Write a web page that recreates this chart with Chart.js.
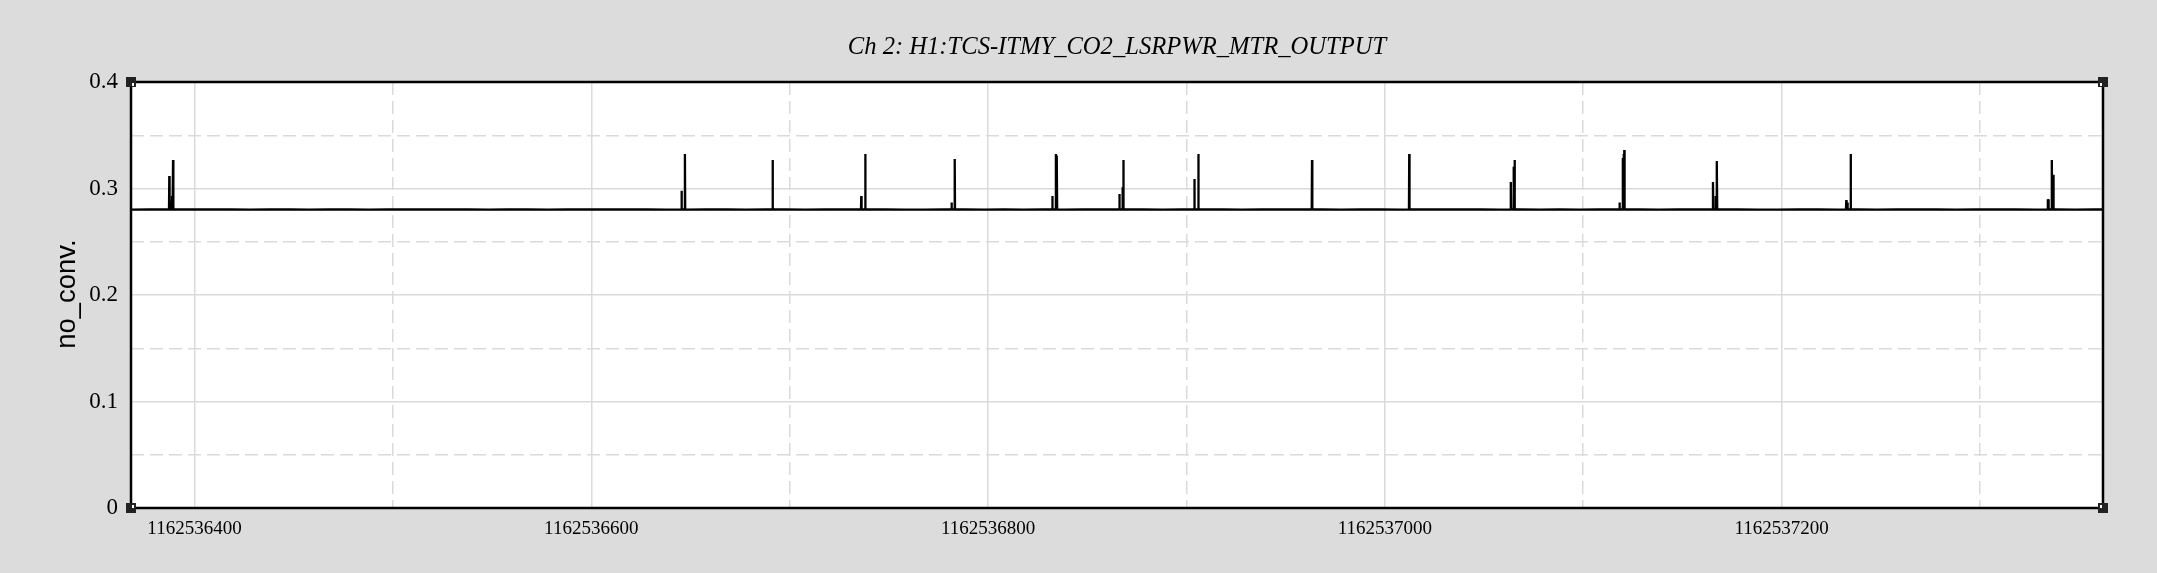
<!DOCTYPE html>
<html>
<head>
<meta charset="utf-8">
<script src="https://cdn.jsdelivr.net/npm/chart.js@4.4.1/dist/chart.umd.min.js"></script>
<style>
  html, body { margin: 0; padding: 0; background: #dcdcdc; }
</style>
</head>
<body>
<canvas id="chart" width="2157" height="573"></canvas>
<script>
// GPS time offsets (seconds after T0)
const T0 = 1162536000;
const xMin = 1162536368;
const xMax = 1162537362;

const chartTitle = 'Ch 2: H1:TCS-ITMY_CO2_LSRPWR_MTR_OUTPUT';
const yTitle = 'no_conv.';

const xMajorTicks = [1162536400, 1162536600, 1162536800, 1162537000, 1162537200];
const xMinorTicks = [1162536500, 1162536700, 1162536900, 1162537100, 1162537300];
const yMajorTicks = [0, 0.1, 0.2, 0.3, 0.4];
const yMinorTicks = [0.05, 0.15, 0.25, 0.35];

// baseline samples
const baseTimes = [
  368, 378, 388, 398, 408, 418, 428, 438, 448, 458,
  468, 478, 488, 498, 508, 518, 528, 538, 548, 558,
  568, 578, 588, 598, 608, 618, 628, 638, 648, 658,
  668, 678, 688, 698, 708, 718, 728, 738, 748, 758,
  768, 778, 788, 798, 808, 818, 828, 838, 848, 858,
  868, 878, 888, 898, 908, 918, 928, 938, 948, 958,
  968, 978, 988, 998, 1008, 1018, 1028, 1038, 1048, 1058,
  1068, 1078, 1088, 1098, 1108, 1118, 1128, 1138, 1148, 1158,
  1168, 1178, 1188, 1198, 1208, 1218, 1228, 1238, 1248, 1258,
  1268, 1278, 1288, 1298, 1308, 1318, 1328, 1338, 1348, 1358,
  1362
];
const baseVals = [
  0.2802, 0.2803, 0.2802, 0.2803, 0.2803, 0.2803, 0.2802, 0.2803, 0.2803, 0.2802,
  0.2803, 0.2803, 0.2802, 0.2803, 0.2803, 0.2803, 0.2803, 0.2803, 0.2802, 0.2803,
  0.2803, 0.2802, 0.2803, 0.2803, 0.2803, 0.2803, 0.2803, 0.2802, 0.2802, 0.2803,
  0.2803, 0.2802, 0.2803, 0.2803, 0.2802, 0.2803, 0.2803, 0.2803, 0.2803, 0.2802,
  0.2802, 0.2803, 0.2803, 0.2802, 0.2803, 0.2802, 0.2803, 0.2802, 0.2803, 0.2803,
  0.2803, 0.2803, 0.2802, 0.2803, 0.2803, 0.2803, 0.2802, 0.2803, 0.2803, 0.2803,
  0.2803, 0.2802, 0.2803, 0.2803, 0.2802, 0.2803, 0.2803, 0.2803, 0.2803, 0.2802,
  0.2803, 0.2802, 0.2803, 0.2802, 0.2803, 0.2803, 0.2803, 0.2802, 0.2803, 0.2803,
  0.2803, 0.2803, 0.2802, 0.2802, 0.2803, 0.2803, 0.2802, 0.2803, 0.2802, 0.2803,
  0.2803, 0.2803, 0.2802, 0.2803, 0.2803, 0.2803, 0.2802, 0.2803, 0.2802, 0.2803,
  0.2803
];

// spikes
const spikeTimes = [
  387.3, 388.7, 389.2, 645.5, 647.2, 691.4, 736.1, 738.1, 781.6, 783.2,
  832.4, 834.2, 834.7, 866.2, 867.7, 868.2, 904.0, 906.0, 963.3, 1012.3,
  1063.5, 1064.9, 1065.4, 1118.3, 1119.9, 1120.3, 1120.7, 1165.4, 1166.8, 1167.4,
  1232.6, 1233.2, 1234.8, 1334.2, 1334.6, 1336.2, 1337.0
];
const spikeVals = [
  0.3117, 0.2930, 0.3268, 0.2980, 0.3324, 0.3268, 0.2930, 0.3324, 0.2868, 0.3277,
  0.2930, 0.3324, 0.3310, 0.2948, 0.3011, 0.3268, 0.3089, 0.3324, 0.3268, 0.3324,
  0.3061, 0.3205, 0.3268, 0.2868, 0.3286, 0.3324, 0.3362, 0.3061, 0.2930, 0.3258,
  0.2892, 0.2868, 0.3324, 0.2900, 0.2900, 0.3268, 0.3130
];
const spikeBase = 0.2803;

const points = [];
baseTimes.forEach((t, i) => points.push({ x: T0 + t, y: baseVals[i] }));
spikeTimes.forEach((t, i) => {
  points.push({ x: T0 + t - 0.15, y: spikeBase });
  points.push({ x: T0 + t, y: spikeVals[i] });
  points.push({ x: T0 + t + 0.15, y: spikeBase });
});
points.sort((a, b) => a.x - b.x);

const serif = '"Liberation Serif", "Times New Roman", serif';
const GRID = '#dadada';

function tickList(major, minor) {
  return major.concat(minor).sort((a, b) => a - b).map(v => ({ value: v }));
}
const isMajor = (list, v) => list.some(m => Math.abs(m - v) < 1e-6);

const framePlugin = {
  id: 'frame',
  beforeDraw(chart) {
    const { ctx, chartArea: a } = chart;
    ctx.save();
    ctx.fillStyle = '#dcdcdc';
    ctx.fillRect(0, 0, chart.width, chart.height);
    ctx.fillStyle = '#ffffff';
    ctx.fillRect(a.left, a.top, a.right - a.left, a.bottom - a.top);
    ctx.restore();
  },
  afterDraw(chart) {
    const { ctx, chartArea: a } = chart;
    ctx.save();
    // plot frame
    ctx.strokeStyle = '#000';
    ctx.lineWidth = 2.5;
    ctx.strokeRect(a.left, a.top, a.right - a.left, a.bottom - a.top);
    // corner handles
    const corners = [[a.left, a.top, 1, 1], [a.right, a.top, -1, 1], [a.left, a.bottom, 1, -1], [a.right, a.bottom, -1, -1]];
    corners.forEach(([cx, cy, dx, dy]) => {
      ctx.fillStyle = '#222';
      ctx.fillRect(cx - 5, cy - 5, 10, 10);
      ctx.fillStyle = '#fff';
      ctx.fillRect(dx > 0 ? cx + 1 : cx - 3, dy > 0 ? cy + 1 : cy - 3, 2, 3);
    });
    // title
    ctx.fillStyle = '#000';
    ctx.font = 'italic 24.6px ' + serif;
    ctx.textAlign = 'center';
    ctx.textBaseline = 'alphabetic';
    ctx.fillText(chartTitle, (a.left + a.right) / 2, 54);
    // y title
    ctx.translate(75, 294);
    ctx.rotate(-Math.PI / 2);
    ctx.scale(0.98, 1);
    ctx.font = '28px "Liberation Sans", Arial, sans-serif';
    ctx.fillText(yTitle, 0, 0);
    ctx.restore();
  }
};

new Chart(document.getElementById('chart'), {
  type: 'line',
  data: {
    datasets: [{
      data: points,
      borderColor: '#000',
      borderWidth: 2.3,
      pointRadius: 0,
      tension: 0,
      fill: false
    }]
  },
  options: {
    responsive: false,
    animation: false,
    parsing: false,
    layout: { padding: { left: 0, top: 82, right: 54, bottom: 0 } },
    plugins: {
      legend: { display: false },
      title: { display: false },
      tooltip: { enabled: false }
    },
    scales: {
      x: {
        type: 'linear',
        min: xMin,
        max: xMax,
        afterBuildTicks: s => { s.ticks = tickList(xMajorTicks, xMinorTicks); },
        afterFit: s => { s.height = 65; },
        grid: { color: GRID, lineWidth: 1.5, drawTicks: false },
        border: {
          display: false,
          dash: c => (c.tick && isMajor(xMinorTicks, c.tick.value)) ? [13, 6] : []
        },
        ticks: {
          autoSkip: false,
          maxRotation: 0,
          padding: 10,
          color: '#000',
          font: { family: serif, size: 19 },
          callback: v => isMajor(xMajorTicks, v) ? String(v) : ''
        }
      },
      y: {
        min: 0,
        max: 0.4,
        afterBuildTicks: s => { s.ticks = tickList(yMajorTicks, yMinorTicks); },
        afterFit: s => { s.width = 131; },
        grid: { color: GRID, lineWidth: 1.5, drawTicks: false },
        border: {
          display: false,
          dash: c => (c.tick && isMajor(yMinorTicks, c.tick.value)) ? [13, 6] : []
        },
        ticks: {
          autoSkip: false,
          padding: 13,
          color: '#000',
          font: { family: serif, size: 23 },
          callback: v => isMajor(yMajorTicks, v) ? String(Math.round(v * 10) / 10) : ''
        }
      }
    }
  },
  plugins: [framePlugin]
});
</script>
</body>
</html>
